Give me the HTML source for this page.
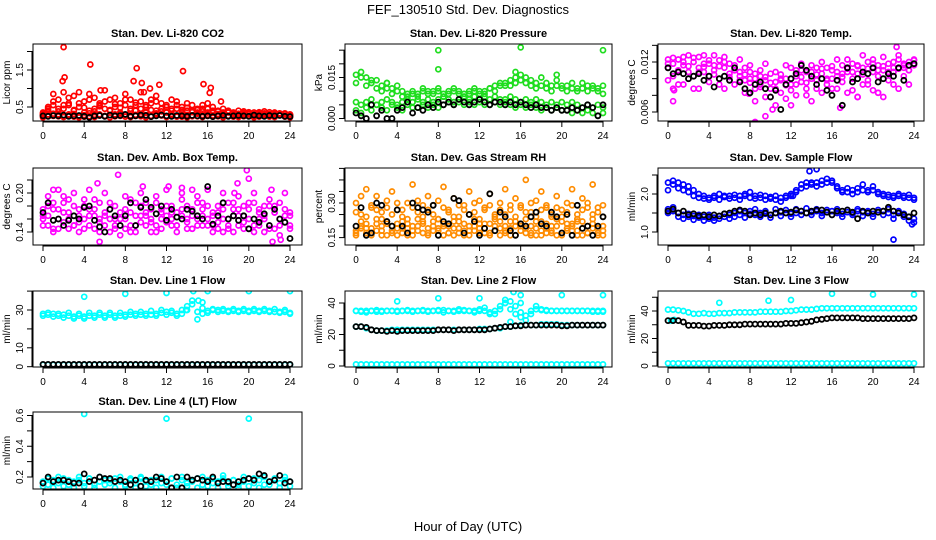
<!DOCTYPE html>
<html><head><meta charset="utf-8"><style>
html,body{margin:0;padding:0;background:#fff;}
svg{display:block;font-family:"Liberation Sans",sans-serif;}
</style></head><body>
<svg id="chart" width="936" height="540" viewBox="0 0 936 540">
<rect width="936" height="540" fill="#fff"/>
<text x="468" y="14" font-size="13" text-anchor="middle">FEF_130510  Std. Dev. Diagnostics</text>
<text x="468" y="531" font-size="13" text-anchor="middle">Hour of Day (UTC)</text>
</svg>
<script>
// ---- data (values every 0.5 h, 0..24) ----
const xTicks=[0,4,8,12,16,20,24];
// P1 CO2
const co2Base=[0.28,0.30,0.26,0.25,0.27,0.30,0.24,0.26,0.28,0.25,0.29,0.27,0.25,0.28,0.30,0.26,0.24,0.27,0.29,0.25,0.28,0.26,0.30,0.27,0.25,0.28,0.26,0.24,0.29,0.27,0.25,0.28,0.26,0.27,0.25,0.29,0.26,0.24,0.27,0.28,0.25,0.26,0.29,0.27,0.24,0.26,0.28,0.25,0.22];
const co2Low2=[0.22,0.25,0.32,0.30,0.23,0.26,0.31,0.22,0.24,0.33,0.23,0.30,0.26,0.22,0.25,0.32,0.29,0.23,0.26,0.31,0.22,0.24,0.33,0.29,0.23,0.31,0.24,0.30,0.22,0.25,0.32,0.23,0.29,0.24,0.31,0.22,0.26,0.30,0.23,0.25,0.32,0.22,0.24,0.30,0.26,0.23,0.31,0.24,0.26];
const co2Mid=[0.35,0.40,0.55,0.70,0.45,0.60,0.80,0.50,0.65,0.40,0.75,0.55,0.45,0.70,0.50,0.60,0.85,0.45,0.55,0.65,0.50,0.70,0.40,0.60,0.55,0.45,0.65,0.50,0.40,0.55,0.35,0.45,0.60,0.40,0.38,0.45,0.35,0.33,0.40,0.32,0.36,0.30,0.34,0.38,0.31,0.35,0.30,0.33,0.30];
const co2Mid2=[0.30,0.50,0.85,0.45,0.90,0.55,0.40,0.90,0.35,0.85,0.45,0.60,0.95,0.40,0.75,0.35,0.55,0.70,0.40,0.90,0.35,0.60,0.80,0.45,0.35,0.70,0.45,0.35,0.60,0.40,0.45,0.55,0.35,0.50,0.30,0.35,0.40,0.30,0.32,0.38,0.30,0.35,0.32,0.30,0.36,0.31,0.33,0.30,0.28];
const co2Mid3=[0.32,0.45,0.65,0.38,0.55,0.75,0.42,0.60,0.48,0.70,0.38,0.52,0.65,0.42,0.58,0.48,0.70,0.40,0.62,0.45,0.55,0.42,0.65,0.38,0.50,0.40,0.55,0.42,0.48,0.36,0.42,0.38,0.45,0.34,0.40,0.32,0.36,0.35,0.30,0.34,0.32,0.30,0.36,0.33,0.30,0.32,0.30,0.31,0.29];
const co2OutH=[2.0,2.1,1.9,4.6,9.1,13.6,8.8,9.6,11.3,15.6,16.3,9.8,16.2,17.3,5.6,10.4];
const co2OutV=[2.12,1.30,1.20,1.65,1.55,1.47,1.20,1.15,1.10,1.12,1.02,0.90,0.88,0.65,0.95,1.0];
const co2Black=[0.26,0.25,0.27,0.26,0.28,0.25,0.26,0.27,0.25,0.22,0.26,0.27,0.25,0.28,0.26,0.27,0.30,0.25,0.26,0.28,0.27,0.24,0.26,0.28,0.26,0.25,0.27,0.26,0.25,0.27,0.26,0.25,0.26,0.24,0.26,0.27,0.25,0.26,0.27,0.26,0.25,0.28,0.26,0.25,0.27,0.26,0.27,0.25,0.24];
// P2 pressure
const prUp=[0.016,0.017,0.015,0.014,0.014,0.012,0.013,0.011,0.012,0.010,0.009,0.010,0.009,0.011,0.010,0.010,0.011,0.009,0.010,0.011,0.010,0.009,0.010,0.011,0.010,0.009,0.011,0.012,0.013,0.012,0.014,0.015,0.016,0.015,0.014,0.013,0.015,0.013,0.012,0.014,0.012,0.012,0.013,0.011,0.013,0.012,0.012,0.011,0.012];
const prUp2=[0.013,0.015,0.012,0.013,0.011,0.010,0.011,0.009,0.010,0.008,0.008,0.009,0.008,0.010,0.009,0.009,0.010,0.008,0.009,0.010,0.009,0.008,0.009,0.010,0.009,0.010,0.011,0.010,0.012,0.013,0.012,0.013,0.014,0.013,0.012,0.011,0.012,0.011,0.010,0.012,0.011,0.010,0.011,0.010,0.011,0.010,0.011,0.010,0.009];
const prMid=[0.006,0.005,0.006,0.007,0.005,0.006,0.007,0.006,0.005,0.006,0.007,0.006,0.007,0.006,0.007,0.006,0.007,0.008,0.007,0.006,0.007,0.008,0.007,0.008,0.007,0.008,0.007,0.008,0.007,0.007,0.008,0.007,0.006,0.007,0.006,0.007,0.006,0.005,0.006,0.005,0.006,0.005,0.006,0.005,0.004,0.005,0.004,0.005,0.004];
const prLow=[0.003,0.002,0.004,0.003,0.005,0.004,0.003,0.005,0.004,0.003,0.005,0.004,0.004,0.005,0.004,0.005,0.004,0.005,0.006,0.005,0.006,0.005,0.006,0.005,0.006,0.005,0.005,0.006,0.005,0.006,0.005,0.004,0.005,0.004,0.005,0.004,0.003,0.004,0.003,0.004,0.003,0.003,0.002,0.003,0.002,0.003,0.002,0.001,0.002];
const prOutH=[8.0,8.0,16.0,24.0,3.0,15.5,19.5];
const prOutV=[0.025,0.018,0.026,0.025,0.013,0.017,0.016];
const prBlack=[0.002,0.001,0.000,0.005,0.001,0.003,0.000,0.000,0.003,0.004,0.006,0.002,0.004,0.003,0.005,0.004,0.006,0.005,0.006,0.005,0.007,0.006,0.005,0.006,0.007,0.006,0.005,0.006,0.006,0.005,0.006,0.005,0.006,0.005,0.004,0.005,0.004,0.004,0.003,0.004,0.003,0.003,0.004,0.003,0.004,0.005,0.004,0.001,0.005];
// P3 Li-820 temp
const tA=[0.0113,0.0118,0.0123,0.0116,0.0108,0.0120,0.0126,0.0114,0.0118,0.0110,0.0122,0.0113,0.0106,0.0116,0.0108,0.0113,0.0100,0.0106,0.0093,0.0098,0.0088,0.0096,0.0083,0.0100,0.0093,0.0103,0.0096,0.0108,0.0100,0.0113,0.0106,0.0098,0.0110,0.0103,0.0116,0.0108,0.0118,0.0106,0.0113,0.0120,0.0108,0.0116,0.0110,0.0118,0.0113,0.0123,0.0116,0.0120,0.0118];
const tB=[0.0098,0.0073,0.0108,0.0093,0.0128,0.0103,0.0088,0.0108,0.0096,0.0128,0.0100,0.0088,0.0118,0.0093,0.0103,0.0083,0.0108,0.0073,0.0103,0.0078,0.0106,0.0068,0.0098,0.0076,0.0113,0.0080,0.0118,0.0088,0.0073,0.0098,0.0083,0.0113,0.0088,0.0123,0.0096,0.0083,0.0100,0.0078,0.0093,0.0098,0.0086,0.0103,0.0078,0.0098,0.0108,0.0088,0.0113,0.0093,0.0123];
const tC=[0.0123,0.0103,0.0093,0.0126,0.0100,0.0088,0.0113,0.0128,0.0103,0.0116,0.0093,0.0126,0.0098,0.0110,0.0123,0.0098,0.0116,0.0088,0.0110,0.0118,0.0078,0.0108,0.0100,0.0116,0.0086,0.0093,0.0110,0.0080,0.0116,0.0088,0.0120,0.0093,0.0100,0.0088,0.0106,0.0123,0.0086,0.0116,0.0128,0.0093,0.0123,0.0083,0.0126,0.0106,0.0093,0.0128,0.0103,0.0110,0.0116];
const tD=[0.0118,0.0125,0.0110,0.0120,0.0115,0.0125,0.0108,0.0118,0.0122,0.0105,0.0115,0.0120,0.0102,0.0110,0.0098,0.0105,0.0095,0.0100,0.0090,0.0102,0.0095,0.0088,0.0105,0.0092,0.0100,0.0110,0.0102,0.0095,0.0108,0.0105,0.0112,0.0100,0.0115,0.0108,0.0102,0.0112,0.0108,0.0115,0.0105,0.0112,0.0118,0.0110,0.0115,0.0108,0.0120,0.0112,0.0118,0.0110,0.0122];
const tOutH=[0.5,0.6,7.9,8.5,9.5,10.2,12.0,16.8,18.5,20.5,22.3,22.5];
const tOutV=[0.0088,0.0086,0.0082,0.0048,0.0055,0.0063,0.0068,0.0065,0.0078,0.0083,0.0138,0.0150];
const tBlack=[0.0113,0.0106,0.0108,0.0106,0.0100,0.0103,0.0106,0.0098,0.0103,0.0090,0.0100,0.0103,0.0098,0.0113,0.0096,0.0088,0.0083,0.0093,0.0096,0.0088,0.0078,0.0086,0.0063,0.0093,0.0100,0.0106,0.0116,0.0110,0.0103,0.0093,0.0100,0.0086,0.0080,0.0098,0.0068,0.0113,0.0096,0.0100,0.0108,0.0106,0.0113,0.0096,0.0100,0.0106,0.0103,0.0113,0.0098,0.0116,0.0118];
// P4 amb box temp
const aA=[0.175,0.165,0.185,0.160,0.195,0.170,0.180,0.155,0.190,0.175,0.165,0.185,0.170,0.160,0.180,0.150,0.175,0.190,0.165,0.180,0.170,0.155,0.185,0.175,0.165,0.180,0.170,0.190,0.160,0.175,0.185,0.165,0.180,0.170,0.155,0.175,0.185,0.165,0.175,0.180,0.160,0.185,0.175,0.165,0.180,0.170,0.160,0.175,0.170];
const aB=[0.150,0.195,0.145,0.205,0.155,0.145,0.200,0.140,0.160,0.205,0.145,0.155,0.200,0.140,0.160,0.135,0.195,0.150,0.140,0.200,0.150,0.140,0.195,0.145,0.205,0.150,0.140,0.200,0.155,0.145,0.195,0.150,0.205,0.140,0.145,0.200,0.150,0.140,0.195,0.155,0.145,0.200,0.150,0.140,0.190,0.145,0.135,0.200,0.150];
const aC=[0.160,0.180,0.140,0.175,0.185,0.160,0.150,0.175,0.145,0.165,0.190,0.160,0.150,0.185,0.145,0.170,0.160,0.140,0.185,0.155,0.165,0.175,0.140,0.160,0.155,0.170,0.150,0.165,0.180,0.145,0.160,0.175,0.150,0.165,0.180,0.140,0.160,0.175,0.150,0.165,0.185,0.140,0.160,0.180,0.150,0.170,0.185,0.155,0.165];
const aD=[0.165,0.150,0.175,0.145,0.170,0.190,0.150,0.165,0.180,0.150,0.175,0.140,0.165,0.175,0.150,0.160,0.145,0.170,0.150,0.165,0.185,0.160,0.150,0.170,0.180,0.160,0.150,0.175,0.145,0.165,0.150,0.185,0.160,0.150,0.170,0.160,0.145,0.185,0.165,0.145,0.175,0.150,0.170,0.160,0.145,0.180,0.150,0.165,0.145];
const aOutH=[5.5,7.3,9.7,12.2,13.5,14.5,18.6,18.9,19.8,20.0,22.3,23.1,5.3,22.2,1.0];
const aOutV=[0.125,0.228,0.210,0.210,0.208,0.205,0.200,0.215,0.235,0.222,0.125,0.128,0.215,0.205,0.205];
const aBlack=[0.170,0.185,0.158,0.160,0.150,0.158,0.165,0.160,0.178,0.180,0.158,0.148,0.140,0.175,0.165,0.150,0.165,0.185,0.150,0.178,0.190,0.178,0.168,0.180,0.158,0.175,0.163,0.160,0.175,0.172,0.165,0.160,0.210,0.152,0.165,0.185,0.160,0.165,0.158,0.165,0.145,0.160,0.155,0.168,0.150,0.175,0.160,0.155,0.130];
// P5 RH
const rA=[0.18,0.20,0.17,0.19,0.21,0.18,0.16,0.20,0.19,0.17,0.21,0.18,0.20,0.17,0.19,0.22,0.18,0.16,0.20,0.19,0.17,0.21,0.18,0.20,0.19,0.17,0.21,0.18,0.16,0.20,0.19,0.22,0.18,0.17,0.20,0.19,0.16,0.21,0.18,0.20,0.17,0.19,0.21,0.18,0.16,0.20,0.19,0.17,0.20];
const rB=[0.16,0.22,0.19,0.17,0.23,0.16,0.21,0.18,0.16,0.22,0.19,0.16,0.23,0.21,0.16,0.18,0.23,0.20,0.17,0.16,0.22,0.18,0.16,0.23,0.17,0.21,0.16,0.23,0.19,0.17,0.22,0.16,0.20,0.23,0.17,0.16,0.22,0.19,0.17,0.23,0.16,0.21,0.18,0.16,0.22,0.17,0.23,0.16,0.18];
const rC=[0.30,0.25,0.36,0.28,0.33,0.26,0.31,0.35,0.27,0.24,0.30,0.38,0.26,0.29,0.33,0.25,0.31,0.37,0.27,0.32,0.24,0.29,0.35,0.26,0.31,0.28,0.34,0.25,0.30,0.36,0.27,0.32,0.29,0.40,0.26,0.31,0.35,0.28,0.24,0.33,0.27,0.30,0.36,0.25,0.32,0.28,0.38,0.26,0.29];
const rD=[0.26,0.33,0.24,0.29,0.27,0.23,0.28,0.25,0.30,0.27,0.23,0.28,0.31,0.24,0.27,0.29,0.23,0.28,0.26,0.24,0.29,0.27,0.25,0.30,0.23,0.27,0.29,0.24,0.27,0.25,0.29,0.24,0.28,0.26,0.30,0.24,0.27,0.29,0.25,0.28,0.24,0.26,0.29,0.23,0.27,0.30,0.25,0.28,0.24];
const rE=[0.17,0.19,0.21,0.16,0.18,0.20,0.22,0.17,0.21,0.19,0.16,0.20,0.18,0.22,0.17,0.20,0.19,0.21,0.17,0.22,0.19,0.16,0.20,0.18,0.21,0.19,0.17,0.20,0.22,0.18,0.16,0.20,0.21,0.19,0.16,0.22,0.18,0.17,0.20,0.16,0.22,0.18,0.20,0.22,0.19,0.17,0.21,0.19,0.16];
const rBlack=[0.20,0.28,0.16,0.17,0.30,0.29,0.22,0.20,0.27,0.20,0.17,0.30,0.28,0.27,0.26,0.29,0.16,0.22,0.21,0.32,0.31,0.17,0.25,0.22,0.16,0.19,0.34,0.18,0.26,0.24,0.18,0.16,0.21,0.20,0.24,0.26,0.21,0.20,0.26,0.24,0.17,0.25,0.16,0.29,0.19,0.20,0.16,0.20,0.24];
// P6 sample flow
const sUp=[2.1,2.35,2.3,2.25,2.2,2.1,2.0,1.95,1.9,1.95,2.0,1.92,1.95,1.98,1.95,2.0,2.05,1.95,1.98,1.95,1.92,1.95,1.9,1.95,2.0,2.1,2.25,2.3,2.25,2.3,2.35,2.4,2.35,2.2,2.1,2.15,2.1,2.15,2.25,2.1,2.2,2.05,2.0,1.98,1.95,2.0,1.95,1.98,1.9];
const sUp2=[2.3,2.25,2.15,2.1,2.05,1.95,1.9,1.88,1.85,1.9,1.85,1.95,1.88,1.9,1.85,1.95,1.9,1.88,1.9,1.85,1.88,1.85,1.8,1.9,1.95,2.05,2.15,2.2,2.3,2.2,2.25,2.3,2.3,2.15,2.05,2.05,2.0,2.05,2.1,2.05,2.1,2.0,1.95,1.92,1.9,1.95,1.9,1.9,1.85];
const sLow=[1.6,1.55,1.5,1.45,1.4,1.42,1.38,1.4,1.35,1.38,1.42,1.4,1.45,1.5,1.45,1.5,1.48,1.45,1.5,1.48,1.45,1.5,1.52,1.5,1.48,1.5,1.55,1.5,1.52,1.55,1.5,1.52,1.55,1.5,1.48,1.52,1.5,1.55,1.52,1.5,1.48,1.52,1.55,1.5,1.45,1.5,1.48,1.4,1.35];
const sLow2=[1.5,1.65,1.4,1.35,1.48,1.32,1.45,1.3,1.45,1.3,1.35,1.48,1.35,1.4,1.55,1.38,1.55,1.6,1.4,1.55,1.38,1.6,1.42,1.58,1.4,1.6,1.45,1.62,1.45,1.6,1.42,1.58,1.45,1.6,1.4,1.58,1.45,1.6,1.42,1.55,1.4,1.58,1.45,1.6,1.35,1.55,1.4,1.3,1.25];
const sOutH=[8.0,13.8,14.5,22.0,23.8,12.2];
const sOutV=[2.8,2.6,2.65,0.8,1.2,1.95];
const sBlack=[1.55,1.6,1.5,1.55,1.45,1.48,1.42,1.45,1.4,1.45,1.42,1.48,1.5,1.55,1.58,1.55,1.45,1.5,1.45,1.5,1.45,1.5,1.55,1.5,1.52,1.58,1.55,1.5,1.55,1.58,1.58,1.52,1.45,1.55,1.55,1.58,1.52,1.35,1.55,1.5,1.55,1.52,1.55,1.65,1.55,1.5,1.45,1.4,1.5];
// P7 line 1
const l1A=[28,27.5,28,27,27.5,27,26.5,27,26.5,27,27,27.5,27,27.5,27,27,27.5,27.5,28,27.5,28,27.5,28,28.5,29,28.5,28,28,30,33,29,28,29.5,30,30,29.5,29.5,29.5,29.5,29.5,29.5,29.5,29.5,29.5,29.5,29,29,29,28.5];
const l1B=[27,28.5,26.5,28,26,28.5,25.5,28,25.5,28.5,26,28.5,26,28.5,26,28.5,26.5,29,27,29,27,29.5,27,30,27.5,29.5,27,30,32,35,25,31,28.5,30.5,29,30.5,29,30.5,29,30.5,29,30.5,29,30.5,29,30.5,28.5,30,28];
const l1Bot=[1,1,1,1,1,1,1,1,1,1,1,1,1,1,1,1,1,1,1,1,1,1,1,1,1,1,1,1,1,1,1,1,1,1,1,1,1,1,1,1,1,1,1,1,1,1,1,1,1];
const l1OutH=[4,8,12,14.6,15.1,15.5,16,20,24,13.9];
const l1OutV=[37,38.5,39,40,35,34,40,40,40,30];
const l1Black=[1.2,1.2,1.2,1.2,1.2,1.2,1.2,1.2,1.2,1.2,1.2,1.2,1.2,1.2,1.2,1.2,1.2,1.2,1.2,1.2,1.2,1.2,1.2,1.2,1.2,1.2,1.2,1.2,1.2,1.2,1.2,1.2,1.2,1.2,1.2,1.2,1.2,1.2,1.2,1.2,1.2,1.2,1.2,1.2,1.2,1.2,1.2,1.2,1.2];
// P8 line 2
const l2Up=[35,34.5,35,35,35.5,35,35,35,35,35,35.5,35,35,35.5,35,35,35.5,35.5,35,35,35,35.5,35,35,35,35,34,33,36,40,41,38,34,32,35,36,35.5,35.5,35,35,35,35,35,35,35,35,34.5,34.5,34.5];
const l2Up2=[35,35,34,35,34.5,34.5,35,35,34.5,35,35,34.5,35,35,34.5,35,35,34,35,34.5,36,35,35,34,36,37,33,35,38,42,36,33,31,29,33,38,36,35,35,35,35,35,35,35,35,35,35,35,35];
const l2Mid=[25,25,24,23,22.5,22.5,22.5,23,23,23,23,23,23,23,23,23,23,23,23,23,23,23,23,23,23.5,23.5,23.5,24,24,25,25,25.5,26,26,26,26,26.5,26.5,26.5,26.5,26,26,26,26,26,26,26,26,26];
const l2Black=[25,25,24.5,23,22.5,22.5,22,22.5,22,22.5,22.5,22.5,22.5,22.5,22.5,22.5,23,23,23,22.5,23,23,23,23,23,23,23.5,24,24.5,25,25,25.5,25.5,26,26,26,26,26,26,26,25.5,25.5,26,26,26,26,26,26,26];
const l2Bot=[1,1,1,1,1,1,1,1,1,1,1,1,1,1,1,1,1,1,1,1,1,1,1,1,1,1,1,1,1,1,1,1,1,1,1,1,1,1,1,1,1,1,1,1,1,1,1,1,1];
const l2OutH=[4,8,12,14.5,15.3,16,16,20,24,15];
const l2OutV=[41,43,43,40,47,45,40,45,45,28];
// P9 line 3
const l3Up=[41,41,40.5,40,39,38,38,38.5,38,38,38.5,38.5,38.5,39,39,39,39,39,39.5,39.5,39.5,39.5,39.5,40,40,40.5,41,41,41,41.5,42,42,42,42,42,42,42,42,42,42,42,42,42,42,42,42,42,42,42];
const l3Black=[33,33,33,32,29.5,29.5,29.5,29,29,29.5,29.5,29.5,30,30,30,30.5,30.5,30.5,30.5,30.5,30.5,30.5,30.5,31,31,31,31.5,32,32.5,33.5,34,34.5,35,35,35,35,35,35,34.5,34.5,34.5,34.5,34.5,34.5,34.5,34.5,34.5,34.5,35];
const l3Bot=[2,2,2,2,2,2,2,2,2,2,2,2,2,2,2,2,2,2,2,2,2,2,2,2,2,2,2,2,2,2,2,2,2,2,2,2,2,2,2,2,2,2,2,2,2,2,2,2,2];
const l3OutH=[5,9.8,16,20,24,12,0.3,0.6];
const l3OutV=[46,47.5,52.5,52,52,48,33,33.5];
// P10 line 4
const l4A=[0.17,0.15,0.18,0.16,0.19,0.15,0.17,0.18,0.16,0.19,0.15,0.17,0.18,0.16,0.19,0.17,0.15,0.18,0.16,0.19,0.17,0.15,0.18,0.16,0.17,0.19,0.15,0.18,0.16,0.17,0.19,0.15,0.18,0.16,0.17,0.19,0.16,0.18,0.15,0.17,0.19,0.16,0.18,0.15,0.17,0.19,0.16,0.18,0.17];
const l4B=[0.14,0.19,0.13,0.20,0.14,0.18,0.13,0.20,0.14,0.19,0.13,0.20,0.15,0.18,0.13,0.20,0.14,0.19,0.13,0.20,0.14,0.18,0.13,0.20,0.15,0.19,0.13,0.20,0.14,0.18,0.13,0.20,0.14,0.19,0.13,0.21,0.14,0.18,0.13,0.20,0.14,0.19,0.13,0.20,0.15,0.18,0.13,0.20,0.14];
const l4OutH=[4,12,20];
const l4OutV=[0.61,0.58,0.58];
const l4Black=[0.16,0.20,0.17,0.18,0.18,0.17,0.16,0.16,0.22,0.17,0.18,0.20,0.19,0.19,0.17,0.18,0.17,0.15,0.18,0.14,0.18,0.17,0.20,0.19,0.17,0.13,0.20,0.13,0.20,0.18,0.19,0.18,0.17,0.20,0.16,0.17,0.17,0.15,0.17,0.18,0.19,0.18,0.22,0.21,0.17,0.18,0.21,0.16,0.17];

// ---- layout ----
const NS='http://www.w3.org/2000/svg';
const svg=document.getElementById('chart');
const colX0=[43,356,668], colX24=[290,603,914];
const boxL=[33,345,658], boxR=[302,612,924];
const rowT=[44,168,291,412], rowB=[121,245,367,489];
function mk(tag,attrs,parent){const e=document.createElementNS(NS,tag);for(const k in attrs)e.setAttribute(k,attrs[k]);(parent||svg).appendChild(e);return e;}
function halfHours(n){const h=[];for(let i=0;i<n;i++)h.push(i*24/(n-1));return h;}

const panels=[
 {id:'co2',c:0,r:0,title:'Stan. Dev. Li-820 CO2',ylab:'Licor ppm',cal:[0.5,107,1.5,70],ticks:[0.5,1,1.5,2],labels:['0.5','','1.5',''],
  series:[['#ff0000',null,co2Base],['#ff0000',null,co2Low2],['#ff0000',null,co2Mid],['#ff0000',null,co2Mid2],['#ff0000',null,co2Mid3],['#ff0000',co2OutH,co2OutV],['#000',null,co2Black]]},
 {id:'pressure',c:1,r:0,title:'Stan. Dev. Li-820 Pressure',ylab:'kPa',cal:[0,118.5,0.015,77.5],ticks:[0,0.005,0.01,0.015,0.02,0.025],labels:['0.000','','','0.015','',''],
  series:[['#1fdd1f',null,prUp],['#1fdd1f',null,prUp2],['#1fdd1f',null,prMid],['#1fdd1f',null,prLow],['#1fdd1f',prOutH,prOutV],['#000',null,prBlack]]},
 {id:'licor-temp',c:2,r:0,title:'Stan. Dev. Li-820 Temp.',ylab:'degrees C',cal:[0.006,112,0.012,62],ticks:[0.006,0.008,0.010,0.012,0.014],labels:['0.006','','','0.012',''],
  series:[['#ff00ff',null,tA],['#ff00ff',null,tB],['#ff00ff',null,tC],['#ff00ff',null,tD],['#ff00ff',tOutH,tOutV],['#000',null,tBlack]]},
 {id:'amb-temp',c:0,r:1,title:'Stan. Dev. Amb. Box Temp.',ylab:'degrees C',cal:[0.14,232,0.20,193],ticks:[0.14,0.16,0.18,0.20,0.22],labels:['0.14','','','0.20',''],
  series:[['#ff00ff',null,aA],['#ff00ff',null,aB],['#ff00ff',null,aC],['#ff00ff',null,aD],['#ff00ff',aOutH,aOutV],['#000',null,aBlack]]},
 {id:'rh',c:1,r:1,title:'Stan. Dev. Gas Stream RH',ylab:'percent',cal:[0.15,237.6,0.30,203],ticks:[0.15,0.20,0.25,0.30,0.35,0.40,0.45],labels:['0.15','','','0.30','','',''],
  series:[['#ff8c00',null,rA],['#ff8c00',null,rB],['#ff8c00',null,rE],['#ff8c00',null,rC],['#ff8c00',null,rD],['#000',null,rBlack]]},
 {id:'sample-flow',c:2,r:1,title:'Stan. Dev. Sample Flow',ylab:'ml/min',cal:[1.0,232,2.0,194],ticks:[1.0,1.5,2.0,2.5],labels:['1.0','','2.0',''],
  series:[['#0000ff',null,sUp],['#0000ff',null,sUp2],['#0000ff',null,sLow],['#0000ff',null,sLow2],['#0000ff',sOutH,sOutV],['#000',null,sBlack]]},
 {id:'line1',c:0,r:2,title:'Stan. Dev. Line 1 Flow',ylab:'ml/min',cal:[0,366.7,30,310],ticks:[0,10,20,30,40],labels:['0','10','','30',''],
  series:[['#00ffff',null,l1A],['#00ffff',null,l1B],['#00ffff',null,l1Bot],['#00ffff',l1OutH,l1OutV],['#000',null,l1Black]]},
 {id:'line2',c:1,r:2,title:'Stan. Dev. Line 2 Flow',ylab:'ml/min',cal:[0,366,40,303],ticks:[0,10,20,30,40],labels:['0','','20','','40'],
  series:[['#00ffff',null,l2Up],['#00ffff',null,l2Up2],['#00ffff',null,l2Mid],['#00ffff',null,l2Bot],['#00ffff',l2OutH,l2OutV],['#000',null,l2Black]]},
 {id:'line3',c:2,r:2,title:'Stan. Dev. Line 3 Flow',ylab:'ml/min',cal:[0,366,40,311],ticks:[0,10,20,30,40,50],labels:['0','','20','','40',''],
  series:[['#00ffff',null,l3Up],['#00ffff',null,l3Bot],['#00ffff',l3OutH,l3OutV],['#000',null,l3Black]]},
 {id:'line4',c:0,r:3,title:'Stan. Dev. Line 4 (LT) Flow',ylab:'ml/min',cal:[0.2,477,0.6,415.5],ticks:[0.2,0.3,0.4,0.5,0.6],labels:['0.2','','0.4','','0.6'],
  series:[['#00ffff',null,l4A],['#00ffff',null,l4B],['#00ffff',l4OutH,l4OutV],['#000',null,l4Black]]}
];

panels.forEach(p=>{
  const L=boxL[p.c],R=boxR[p.c],T=rowT[p.r],B=rowB[p.r];
  const x0=colX0[p.c],x24=colX24[p.c];
  const xs=h=>x0+(x24-x0)*h/24;
  const ys=v=>p.cal[1]+(v-p.cal[0])*(p.cal[3]-p.cal[1])/(p.cal[2]-p.cal[0]);
  const g=mk('g',{});
  
  
  const t=mk('text',{x:(L+R)/2,y:T-7,'font-size':'11','font-weight':'bold','text-anchor':'middle'},g);
  t.textContent=p.title;
  
  
  const cp=mk('clipPath',{id:'clip-'+p.id},g);
  mk('rect',{x:L,y:T,width:R-L,height:B-T},cp);
  const pts=mk('g',{'clip-path':'url(#clip-'+p.id+')',fill:'none'},g);
  
  
  p.series.forEach(s=>{
    const col=s[0],vals=s[2],hrs=s[1]||halfHours(vals.length);
    const isBlack=col==='#000';
    vals.forEach((v,i)=>{
      const c=mk('circle',{cx:xs(hrs[i]).toFixed(1),cy:ys(v).toFixed(1),r:2.5,stroke:col,'stroke-width':isBlack?1.8:1.7},pts);
      
      
    });
  });
  const box=mk('rect',{x:L,y:T,width:R-L,height:B-T,fill:'none',stroke:'#000','stroke-width':1},g);
  
  
  const xa=mk('g',{},g);
  
  
  mk('line',{x1:xs(0),x2:xs(24),y1:B+1,y2:B+1,stroke:'#000'},xa);
  xTicks.forEach(h=>{
    mk('line',{x1:xs(h),x2:xs(h),y1:B,y2:B+6,stroke:'#000'},xa);
    const tl=mk('text',{x:xs(h),y:B+18,'font-size':'10','text-anchor':'middle'},xa);
    tl.textContent=h;
    
    
  });
  const ya=mk('g',{},g);
  
  
  mk('line',{x1:L-1,x2:L-1,y1:ys(p.ticks[0]),y2:ys(p.ticks[p.ticks.length-1]),stroke:'#000'},ya);
  p.ticks.forEach((v,i)=>{
    const y=ys(v);
    mk('line',{x1:L-6,x2:L,y1:y,y2:y,stroke:'#000'},ya);
    if(p.labels[i]){
      const tl=mk('text',{x:0,y:0,'font-size':'10','text-anchor':'middle',transform:`translate(${L-10},${y}) rotate(-90)`},ya);
      tl.textContent=p.labels[i];
      
      
    }
  });
  const yt=mk('text',{x:0,y:0,'font-size':'10','text-anchor':'middle',transform:`translate(${L-23},${(T+B)/2}) rotate(-90)`},g);
  yt.textContent=p.ylab;
  
  
});
</script>
</body></html>
